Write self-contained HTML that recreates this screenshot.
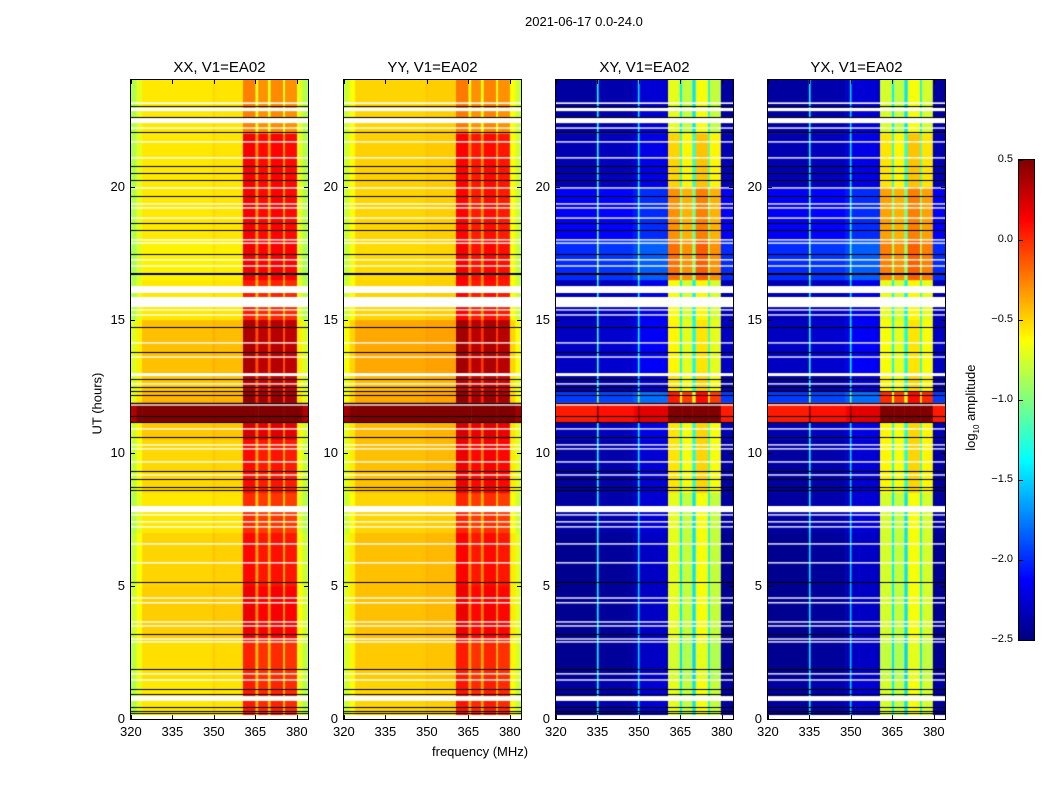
<!DOCTYPE html>
<html><head><meta charset="utf-8">
<style>
body{margin:0;background:#fff;font-family:"Liberation Sans",sans-serif;}
#root{position:relative;width:1050px;height:800px;overflow:hidden;background:#fff;}
.t{position:absolute;font-size:13px;color:#000;white-space:nowrap;}
.ptitle{position:absolute;font-size:15px;text-align:center;width:177px;top:59px;}
canvas{position:absolute;}
</style></head>
<body>
<div id="root">
<div class="t" style="left:525px;top:14px;">2021-06-17 0.0-24.0</div>
<div class="t" style="left:432px;top:744px;">frequency (MHz)</div>
<div class="t" style="left:62px;top:392px;transform:rotate(-90deg);transform-origin:center;width:70px;">UT (hours)</div>
<div class="t" style="left:922px;top:392px;transform:rotate(-90deg);transform-origin:center;width:100px;">log<sub style="font-size:8px">10</sub> amplitude</div>
</div>
<script>
// ---- data ----
const panelNames = ["XX, V1=EA02","YY, V1=EA02","XY, V1=EA02","YX, V1=EA02"];
const xTicks = [320,335,350,365,380];
const yTicks = [0,5,10,15,20];
const cbTicks = [0.5,0.0,-0.5,-1.0,-1.5,-2.0,-2.5];
// frequency profile segments (MHz start, end, log10 amplitude)
const fStartPar = [320,322,324,349.6,350.3,360.5,365,366,369.5,370.5,375,375.7,380,382];
const fEndPar   = [322,324,349.6,350.3,360.5,365,366,369.5,370.5,375,375.7,380,382,384];
const fValXX    = [-0.85,-0.7,-0.56,-0.5,-0.55,0.05,-0.42,0.0,-0.42,0.02,-0.42,0.0,-0.7,-0.85];
const fValYY    = [-0.8,-0.65,-0.52,-0.48,-0.5,0.05,-0.38,-0.02,-0.38,0.02,-0.38,-0.02,-0.65,-0.8];
const fStartX = [320,334.8,335.4,348,349.6,350.2,360.5,364.8,365.6,369.3,370.5,375,375.6,379.6];
const fEndX   = [334.8,335.4,348,349.6,350.2,360.5,364.8,365.6,369.3,370.5,375,375.6,379.6,384];
const fValXY  = [-2.45,-1.4,-2.42,-2.35,-1.5,-2.3,-0.75,-1.45,-0.85,-1.5,-0.7,-1.45,-0.85,-2.45];
const fValYX  = [-2.45,-1.45,-2.42,-2.35,-1.55,-2.3,-0.8,-1.45,-0.85,-1.5,-0.7,-1.45,-0.8,-2.45];
// time segments (hours) and offsets
const tStart = [0,1.5,3,5,7,8.5,10.5,11.15,11.9,12.3,13,15,16.5,18,20,22];
const tEnd   = [1.5,3,5,7,8.5,10.5,11.15,11.9,12.3,13,15,16.5,18,20,22,24];
const bgXX   = [0,0.03,0.08,0.06,0,0.05,0.1,1.2,0.15,0.1,0.12,0,-0.03,0,0,0];
const bandXX = [0,-0.05,0.05,0,-0.05,0,0.1,0.5,0.25,0.2,0.2,0,0.15,0.1,0.1,-0.3];
const bgYY   = [0.02,0.05,0.08,0.08,0.02,0.08,0.1,1.2,0.15,0.1,0.15,0.02,0,0.02,0.03,0.02];
const bandYY = [0,-0.05,0.05,0,-0.05,0.05,0.1,0.5,0.25,0.2,0.2,0.05,0.1,0.05,0.05,-0.3];
const bgXY   = [0.05,0,0,0,0.05,0.05,0.1,2.5,0.5,0.05,0.15,0.1,0.45,0.3,0.1,0.05];
const bandXY = [0,0,0.05,0.05,0,0.15,0.1,1.0,0.3,0.15,0,0,0.1,0.15,0.15,0];
const bgYX   = [0.05,0,0,0,0.05,0.05,0.1,2.5,0.5,0.05,0.15,0.1,0.45,0.3,0.1,0.05];
const bandYX = [0,0,0.05,0.05,0,0.15,0.1,1.0,0.3,0.15,0,0,0.1,0.15,0.15,0];
// flagged (white) intervals, hours
const flagStart = [23.1,22.83,22.38,22.17,21.65,21.05,19.92,19.32,19.17,18.79,17.97,17.85,17.22,16.99,16.0,15.76,15.47,15.34,15.15,14.1,13.57,12.88,12.56,11.77,10.87,10.27,10.12,9.63,9.14,7.77,7.64,7.38,7.19,6.55,5.84,4.52,4.34,3.62,3.47,2.98,2.87,1.67,1.44,0.68,0.0];
const flagEnd   = [23.16,22.95,22.57,22.22,21.7,21.1,19.97,19.37,19.22,18.84,18.02,17.9,17.27,17.04,16.26,15.81,15.85,15.39,15.2,14.15,13.62,12.99,12.61,11.82,10.92,10.32,10.17,9.68,9.19,8.0,7.69,7.43,7.24,6.6,5.89,4.57,4.39,3.67,3.52,3.03,2.92,1.72,1.49,0.86,0.15];
// black lines, hours
const blackLines = [23.02,22.61,22.04,20.77,20.5,20.24,19.64,18.63,18.36,17.46,16.75,16.72,14.72,13.78,12.77,12.47,12.32,12.17,11.87,11.38,11.15,10.59,9.31,9.01,8.71,8.6,5.14,3.19,1.88,1.13,0.94,0.45,0.3,0.23];

const panels = [
 {left:131,fs:fStartPar,fe:fEndPar,fv:fValXX,bg:bgXX,band:bandXX},
 {left:344,fs:fStartPar,fe:fEndPar,fv:fValYY,bg:bgYY,band:bandYY},
 {left:556,fs:fStartX,fe:fEndX,fv:fValXY,bg:bgXY,band:bandXY},
 {left:768,fs:fStartX,fe:fEndX,fv:fValYX,bg:bgYX,band:bandYX}
];
const TOP=80,H=639,W=177,FMIN=320,FMAX=384,TMAX=24,VMIN=-2.5,VMAX=0.5;
const xS = f => (f-FMIN)/(FMAX-FMIN)*W;
const yS = h => H - h/TMAX*H;
function clip(v){return Math.max(0,Math.min(1,v));}
function jet(v){
  const t=clip((v-VMIN)/(VMAX-VMIN));
  const r=clip(1.5-Math.abs(4*t-3)),g=clip(1.5-Math.abs(4*t-2)),b=clip(1.5-Math.abs(4*t-1));
  return `rgb(${Math.round(r*255)},${Math.round(g*255)},${Math.round(b*255)})`;
}
const root=document.getElementById('root');
panels.forEach((p,pi)=>{
  const c=document.createElement('canvas');
  c.width=W;c.height=H;
  c.style.left=p.left+'px';c.style.top=TOP+'px';
  
  
  root.appendChild(c);
  const ctx=c.getContext('2d');
  for(let ti=0;ti<tStart.length;ti++){
    const y0=yS(tEnd[ti]),y1=yS(tStart[ti]);
    for(let fi=0;fi<p.fs.length;fi++){
      const inBand=p.fs[fi]>=360.5&&p.fe[fi]<=380;
      const v=p.fv[fi]+(inBand?p.band[ti]:0)+p.bg[ti];
      ctx.fillStyle=jet(Math.min(v,0.5));
      const x0=xS(p.fs[fi]),x1=xS(p.fe[fi]);
      ctx.fillRect(x0,y0,x1-x0+0.5,y1-y0+0.5);
    }
  }
  ctx.fillStyle='#fff';
  for(let i=0;i<flagStart.length;i++){
    const y0=yS(flagEnd[i]),y1=yS(flagStart[i]);
    ctx.fillRect(0,y0,W,Math.max(1,y1-y0));
  }
  ctx.fillStyle='#000';
  blackLines.forEach(h=>{ctx.fillRect(0,Math.round(yS(h)),W,1);});
  const fr=document.createElement('div');
  fr.style.cssText=`position:absolute;left:${p.left-1}px;top:${TOP-1}px;width:${W}px;height:${H}px;border:1px solid #000;`;
  
  
  root.appendChild(fr);
  const tt=document.createElement('div');
  tt.className='ptitle';tt.style.left=p.left+'px';tt.textContent=panelNames[pi];
  
  
  root.appendChild(tt);
  xTicks.forEach(f=>{
    const x=p.left+xS(f);
    const l=document.createElement('div');
    l.className='t';l.style.left=(x-11)+'px';l.style.top=(TOP+H+5)+'px';l.textContent=f;
    
    
    root.appendChild(l);
    [TOP+H-4,TOP].forEach(yy=>{
      const m=document.createElement('div');
      m.style.cssText=`position:absolute;left:${x}px;top:${yy}px;width:1px;height:4px;background:#000;`;
      
      
      root.appendChild(m);
    });
  });
  yTicks.forEach(h=>{
    const y=TOP+yS(h);
    const l=document.createElement('div');
    l.className='t';l.style.left=(p.left-24)+'px';l.style.width='18px';l.style.textAlign='right';
    l.style.top=(y-8)+'px';l.textContent=h;
    
    
    root.appendChild(l);
    [p.left,p.left+W-4].forEach(xx=>{
      const m=document.createElement('div');
      m.style.cssText=`position:absolute;left:${xx}px;top:${y}px;width:4px;height:1px;background:#000;`;
      
      
      root.appendChild(m);
    });
  });
});
// colorbar
const CBX=1019,CBY=160,CBW=15,CBH=480;
const cb=document.createElement('canvas');
cb.width=CBW;cb.height=CBH;cb.style.left=CBX+'px';cb.style.top=CBY+'px';cb.style.outline='1px solid #000';


root.appendChild(cb);
const cctx=cb.getContext('2d');
for(let i=0;i<CBH;i++){cctx.fillStyle=jet(VMAX-(i+0.5)/CBH*(VMAX-VMIN));cctx.fillRect(0,i,CBW,1);}
cbTicks.forEach(v=>{
  const y=CBY+(VMAX-v)/(VMAX-VMIN)*CBH;
  const l=document.createElement('div');
  l.className='t';l.style.fontSize='11px';l.style.left='978px';l.style.width='35px';l.style.textAlign='right';
  l.style.top=(y-7)+'px';l.textContent=v.toFixed(1).replace('-','\u2212');
  
  
  root.appendChild(l);
  const m=document.createElement('div');
  m.style.cssText=`position:absolute;left:${CBX}px;top:${Math.round(y)}px;width:4px;height:1px;background:#000;`;
  
  
  root.appendChild(m);
});
</script>
</body></html>
